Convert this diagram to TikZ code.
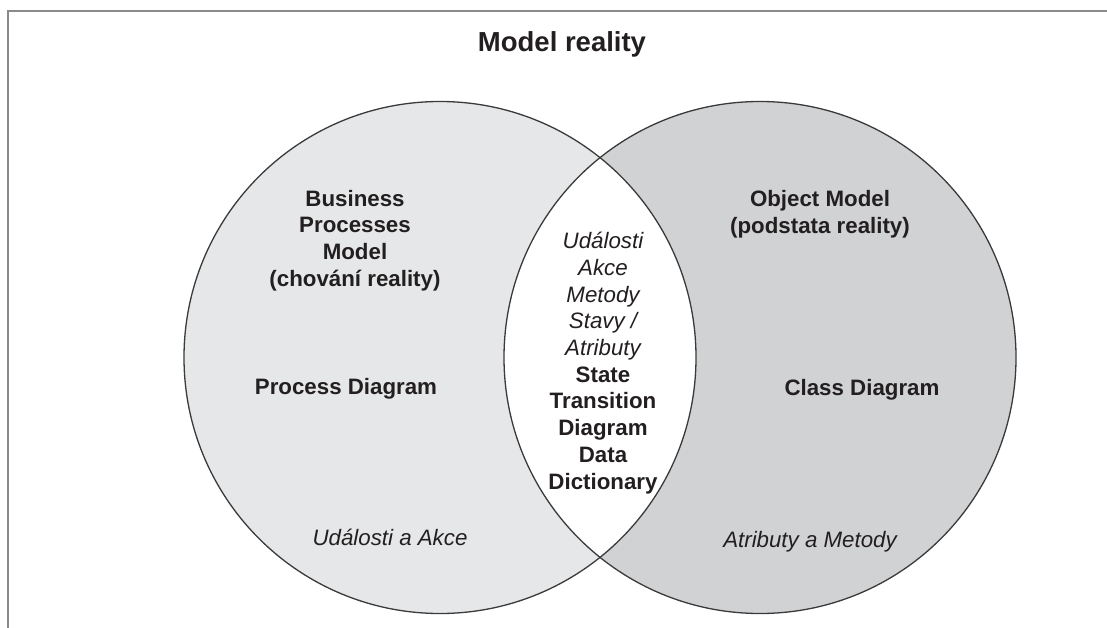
\documentclass[tikz,border=0pt]{standalone}
\usepackage{fontspec}
\setmainfont{Liberation Sans}
\definecolor{ink}{HTML}{231F20}
\definecolor{ringline}{HTML}{3A3A3A}
\definecolor{framegray}{HTML}{8A8A8A}
\definecolor{behaviour}{HTML}{E6E7E8}
\definecolor{essence}{HTML}{D1D2D4}

\begin{document}
\begin{tikzpicture}[x=1pt,y=-1pt,
	ring/.style={line width=1.3pt,draw=ringline},
	boldlbl/.style={align=center,text=ink,inner sep=0pt,font=\fontsize{22.3}{26.7}\selectfont\bfseries},
	itallbl/.style={align=center,text=ink,inner sep=0pt,font=\fontsize{22.3}{26.7}\selectfont\itshape}]
	\useasboundingbox (0,0) rectangle (1107,628);
	\draw[framegray,line width=2pt] (7.5,628) -- (7.5,11) -- (1107,11);
	% the two sets and their overlap
	\fill[behaviour] (440,357.5) circle[radius=256pt];
	\fill[essence] (760,357.5) circle[radius=256pt];
	\begin{scope}
		\clip (440,357.5) circle[radius=256pt];
		\fill[white] (760,357.5) circle[radius=256pt];
	\end{scope}
	\draw[ring] (440,357.5) circle[radius=256pt];
	\draw[ring] (760,357.5) circle[radius=256pt];
	% labels
	\node[boldlbl,font=\fontsize{27.5}{33}\selectfont\bfseries] (title) at (562,44) {Model reality};
	\node[boldlbl] (bpm) at (355,240.5) {Business\\Processes\\Model\\(chování reality)};
	\node[boldlbl] (pd) at (346,389) {Process Diagram};
	\node[itallbl] (ua) at (390,537) {Události a Akce};
	\node[boldlbl] (om) at (820,214) {Object Model\\(podstata reality)};
	\node[boldlbl] (cd) at (862,390) {Class Diagram};
	\node[itallbl] (am) at (810,542) {Atributy a Metody};
	\node[align=center,inner sep=0pt,text=ink,font=\fontsize{22.3}{26.7}\selectfont] (common) at (603,363)
		{\itshape Události\\\itshape Akce\\\itshape Metody\\\itshape Stavy /\\\itshape Atributy\\
		 \bfseries State\\\bfseries Transition\\\bfseries Diagram\\\bfseries Data\\\bfseries Dictionary};
\end{tikzpicture}
\end{document}
